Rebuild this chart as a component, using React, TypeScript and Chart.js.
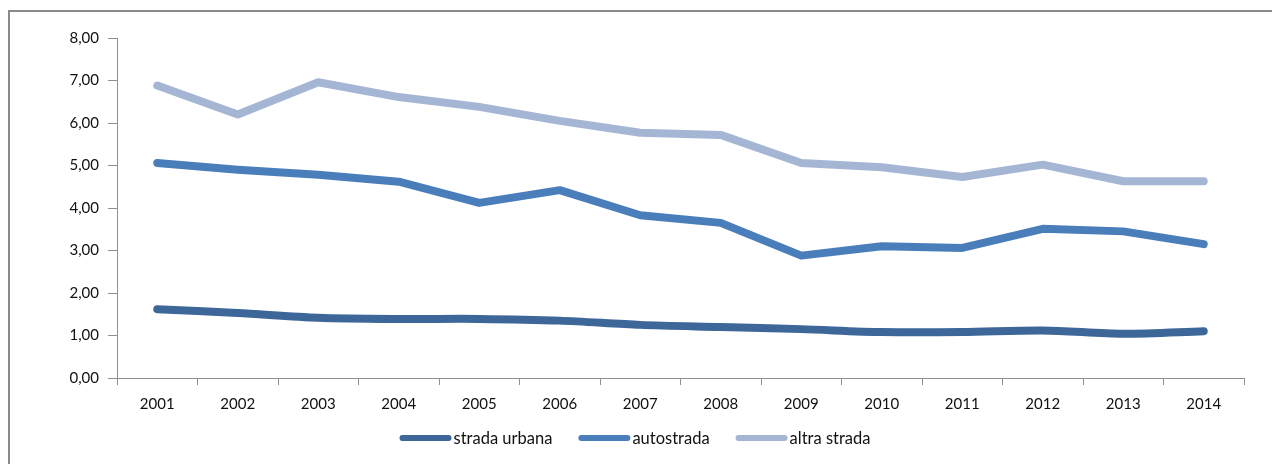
import React, { useEffect, useRef } from "react";
import { Chart, registerables } from "chart.js";

Chart.register(...registerables);

const categories = ["2001", "2002", "2003", "2004", "2005", "2006", "2007", "2008", "2009", "2010", "2011", "2012", "2013", "2014"];
const seriesNames = ["strada urbana", "autostrada", "altra strada"];
const stradaUrbana = [1.62, 1.53, 1.42, 1.39, 1.39, 1.35, 1.25, 1.2, 1.15, 1.08, 1.08, 1.12, 1.04, 1.1];
const autostrada = [5.06, 4.9, 4.78, 4.62, 4.12, 4.42, 3.83, 3.65, 2.88, 3.1, 3.06, 3.51, 3.45, 3.15];
const altraStrada = [6.88, 6.2, 6.96, 6.61, 6.38, 6.05, 5.77, 5.72, 5.06, 4.96, 4.73, 5.02, 4.63, 4.63];
const seriesColors = ["#3D6699", "#4A7EBB", "#A5B6D4"];
const yMin = 0;
const yMax = 8;
const yStep = 1;

const FONT = "Lato, 'Open Sans', sans-serif";
const AXIS_COLOR = "#8f8f8f";
const TEXT_COLOR = "#111111";

const legendPlugin = {
  id: "excelLegend",
  afterDraw(chart: any) {
    const ctx = chart.ctx;
    ctx.save();
    ctx.font = `16.5px ${FONT}`;
    const sample = 52;
    const gap = 2;
    const spacing = 26;
    const items = chart.data.datasets.map((d: any) => ({
      label: d.label,
      color: d.borderColor,
      w: ctx.measureText(d.label).width,
    }));
    const total = items.reduce((s: number, it: any) => s + sample + gap + it.w, 0) + spacing * (items.length - 1);
    let x = chart.width / 2 - 10 - total / 2;
    const y = 426;
    items.forEach((it: any) => {
      ctx.strokeStyle = it.color;
      ctx.lineWidth = 6;
      ctx.lineCap = "round";
      ctx.beginPath();
      ctx.moveTo(x + 3, y);
      ctx.lineTo(x + sample - 3, y);
      ctx.stroke();
      ctx.fillStyle = TEXT_COLOR;
      ctx.textBaseline = "middle";
      ctx.textAlign = "left";
      ctx.fillText(it.label, x + sample + gap, y + 1);
      x += sample + gap + it.w + spacing;
    });
    ctx.restore();
  },
};

export default function App() {
  const canvasRef = useRef<HTMLCanvasElement | null>(null);

  useEffect(() => {
    if (!canvasRef.current) return;
    const values = [stradaUrbana, autostrada, altraStrada];
    const chart = new Chart(canvasRef.current, {
      type: "line",
      data: {
        labels: categories,
        datasets: values.map((v, i) => ({
          label: seriesNames[i],
          data: v,
          borderColor: seriesColors[i],
          backgroundColor: seriesColors[i],
          borderWidth: 8,
          pointRadius: 0,
          pointHoverRadius: 0,
          borderCapStyle: "round",
          borderJoinStyle: "round",
          tension: i === 0 ? 0.3 : 0,
          fill: false,
        })),
      },
      options: {
        animation: false,
        responsive: false,
        maintainAspectRatio: false,
        layout: { padding: { top: 26, right: 36, bottom: 48, left: 0 } },
        plugins: {
          legend: { display: false },
          tooltip: { enabled: false },
          title: { display: false },
        },
        scales: {
          x: {
            type: "category",
            offset: true,
            grid: {
              offset: true,
              drawOnChartArea: false,
              drawTicks: true,
              tickLength: 7,
              color: AXIS_COLOR,
            },
            border: { display: true, color: AXIS_COLOR, width: 1 },
            ticks: {
              color: TEXT_COLOR,
              font: { family: FONT, size: 15 },
              padding: 10,
              maxRotation: 0,
              autoSkip: false,
            },
            afterFit(scale: any) {
              scale.height = 40;
            },
          },
          y: {
            min: yMin,
            max: yMax,
            grid: {
              drawOnChartArea: false,
              drawTicks: true,
              tickLength: 9,
              color: AXIS_COLOR,
            },
            border: { display: true, color: AXIS_COLOR, width: 1 },
            ticks: {
              stepSize: yStep,
              color: TEXT_COLOR,
              font: { family: FONT, size: 15 },
              padding: 9,
              callback: (v: any) => Number(v).toFixed(2).replace(".", ","),
            },
            afterFit(scale: any) {
              scale.width = 107;
            },
          },
        },
      },
      plugins: [legendPlugin],
    });
    return () => chart.destroy();
  }, []);

  return (
    <div
      style={{
        position: "relative",
        top: 2,
        width: 1272,
        height: 456,
        boxSizing: "border-box",
        borderTop: "2px solid #8a8a8a",
        borderLeft: "2px solid #8a8a8a",
        background: "#fff",
      }}
    >
      <canvas ref={canvasRef} width={1270} height={454} style={{ display: "block", width: 1270, height: 454 }} />
    </div>
  );
}
